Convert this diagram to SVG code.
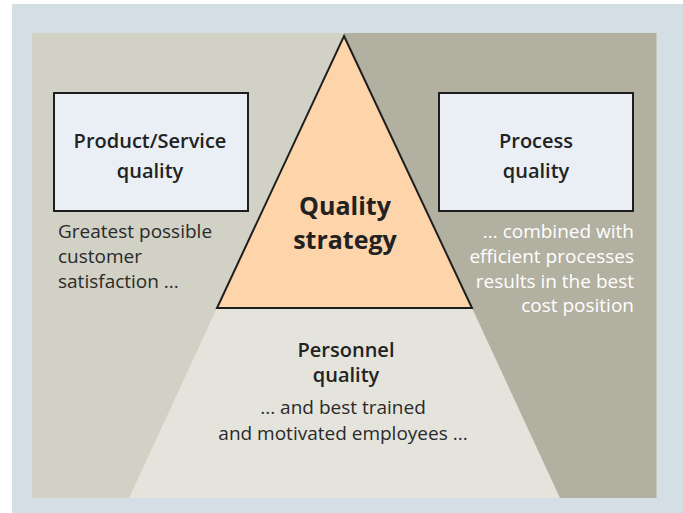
<svg xmlns="http://www.w3.org/2000/svg" width="683" height="513" viewBox="0 0 683 513">
<style>
text{font-family:"Open Sans","Noto Sans","Liberation Sans",sans-serif;}
.h{font-size:20px;font-weight:600;fill:#222;text-anchor:middle;}
.d{font-size:19px;fill:#2a2a2a;}
.w{font-size:19px;fill:#ffffff;text-anchor:end;}
.box{fill:#e9eff4;stroke:#1e1e1e;stroke-width:2;}
</style>
<rect x="0" y="0" width="683" height="513" fill="#ffffff"/>
<rect x="12" y="4" width="671" height="509" fill="#d4dfe5"/>
<g id="background">
<rect x="32" y="33" width="312" height="465" fill="#d1d1c5"/>
<rect x="344" y="33" width="313" height="465" fill="#b2b0a0"/>
<rect x="656" y="33" width="1" height="465" fill="#c6c8bd"/>
</g>
<g id="personnel">
<polygon points="217,308 472,308 560,498 129,498" fill="#e4e4dd"/>
<text class="h" x="346" y="357">Personnel</text>
<text class="h" x="346" y="382">quality</text>
<text class="d" x="343" y="414" text-anchor="middle">... and best trained</text>
<text class="d" x="343" y="440" text-anchor="middle">and motivated employees ...</text>
</g>
<g id="strategy">
<polygon points="344,36 472,308 217,308" fill="#fed5aa" stroke="#1e1e1e" stroke-width="2" stroke-linejoin="miter"/>
<text x="345" y="215" font-size="25" font-weight="700" fill="#222" text-anchor="middle">Quality</text>
<text x="345" y="249" font-size="25" font-weight="700" fill="#222" text-anchor="middle">strategy</text>
</g>
<g id="product">
<rect class="box" x="54" y="93" width="194" height="118"/>
<text class="h" x="150" y="148">Product/Service</text>
<text class="h" x="150" y="178">quality</text>
<text class="d" x="58" y="238">Greatest possible</text>
<text class="d" x="58" y="263">customer</text>
<text class="d" x="58" y="288">satisfaction ...</text>
</g>
<g id="process">
<rect class="box" x="439" y="93" width="194" height="118"/>
<text class="h" x="536" y="148">Process</text>
<text class="h" x="536" y="178">quality</text>
<text class="w" x="634" y="238">... combined with</text>
<text class="w" x="634" y="263">efficient processes</text>
<text class="w" x="634" y="288">results in the best</text>
<text class="w" x="634" y="312">cost position</text>
</g>
<g id="connectors"></g>
</svg>
